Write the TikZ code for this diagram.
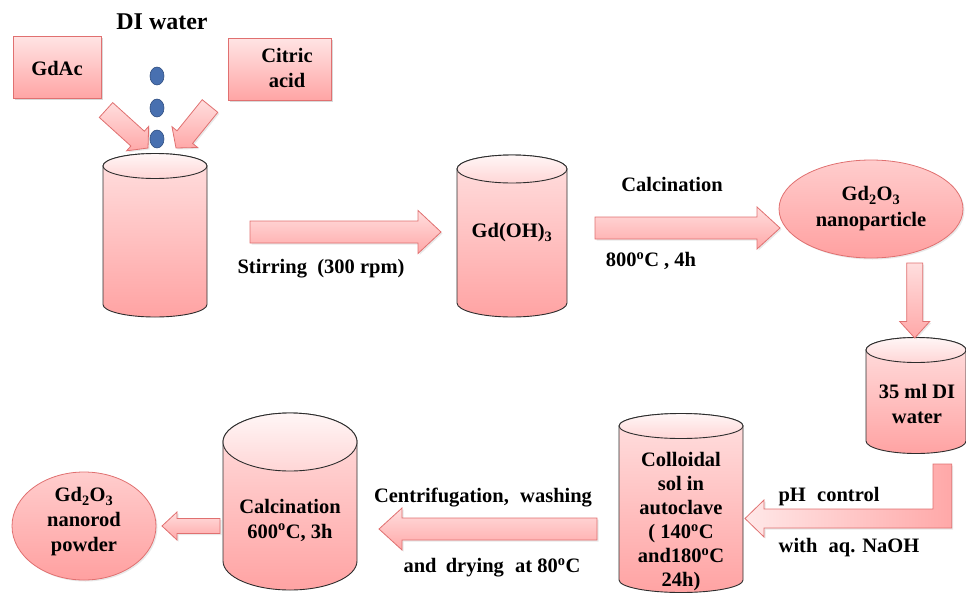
\documentclass[tikz,border=0pt]{standalone}
\usepackage{fontspec}
\setmainfont{Liberation Serif}
\usetikzlibrary{calc,shadows,shapes.geometric}
\definecolor{cylT}{RGB}{255,224,224}
\definecolor{cylB}{RGB}{255,163,163}
\definecolor{lidT}{RGB}{255,246,246}
\definecolor{lidB}{RGB}{255,214,214}
\definecolor{cylline}{RGB}{45,45,45}
\definecolor{arrT}{RGB}{255,222,222}
\definecolor{arrB}{RGB}{255,168,168}
\definecolor{arrline}{RGB}{224,112,112}
\definecolor{ellT}{RGB}{255,205,205}
\definecolor{ellB}{RGB}{255,160,160}
\definecolor{boxT}{RGB}{255,228,228}
\definecolor{boxB}{RGB}{255,165,165}
\definecolor{dropc}{RGB}{72,112,176}
\definecolor{dropline}{RGB}{50,80,130}
\tikzset{
  txt/.style={font=\fontsize{20.5}{25}\selectfont\bfseries, align=center, inner sep=0pt},
  cylbody/.style={draw=cylline, line width=0.9pt, top color=cylT, bottom color=cylB},
  cyltop/.style={draw=cylline, line width=0.9pt, top color=lidT, bottom color=lidB},
  arrbase/.style={draw=arrline, line width=0.8pt, drop shadow={opacity=.18, shadow xshift=1.5pt, shadow yshift=-1.5pt}},
  blockarr/.style={arrbase, top color=arrT, bottom color=arrB},
  ovalbox/.style={ellipse, draw=arrline, line width=0.8pt, top color=ellT, bottom color=ellB, inner sep=0pt, drop shadow={opacity=.18, shadow xshift=1.5pt, shadow yshift=-1.5pt}},
  rectbox/.style={rectangle, draw=arrline, line width=0.8pt, top color=boxT, bottom color=boxB, inner sep=0pt, drop shadow={opacity=.3, shadow xshift=2pt, shadow yshift=-2pt}},
  drop/.style={fill=dropc, draw=dropline, line width=0.6pt},
  holder/.style={inner sep=0pt, draw=none}
}
% #1 cx, #2 top-lid centre y, #3 bottom centre y, #4 rx, #5 ry
\newcommand\cylshape[5]{%
  \path[cylbody] (#1-#4,#2) -- (#1-#4,#3)
     arc[start angle=180,end angle=360,x radius=#4pt,y radius=#5pt]
     -- (#1+#4,#2)
     arc[start angle=0,end angle=180,x radius=#4pt,y radius=#5pt] -- cycle;
  \path[cyltop] (#1,#2) ellipse[x radius=#4pt,y radius=#5pt];
}
% [opts] from, to, shaft half width, head half width, head length
\newcommand\blockarrow[6][]{%
  \coordinate (ba-h) at ($(#3)!#6pt!(#2)$);
  \path[blockarr,#1] ($(#2)!#4pt!90:(#3)$) -- ($(ba-h)!#4pt!90:(#3)$)
     -- ($(ba-h)!#5pt!90:(#3)$) -- (#3) -- ($(ba-h)!#5pt!-90:(#3)$)
     -- ($(ba-h)!#4pt!-90:(#3)$) -- ($(#2)!#4pt!-90:(#3)$) -- cycle;
}
\begin{document}
\begin{tikzpicture}[x=1pt,y=1pt]
\useasboundingbox (0,0) rectangle (966,-592);

% top-left inputs
\node[txt, font=\fontsize{24}{28}\selectfont\bfseries] (di) at (162,-22) {DI water};
\node[rectbox, minimum width=88pt, minimum height=62pt] (gdac) at (57,-67) {};
\node[txt] (gdactxt) at (57,-68) {GdAc};
\node[rectbox, minimum width=103pt, minimum height=62pt] (citric) at (279.5,-69) {};
\node[txt] (citrictxt) at (287,-68) {Citric\\acid};
\path[drop] (157,-76) ellipse[x radius=7pt,y radius=9pt];
\path[drop] (157,-108) ellipse[x radius=7pt,y radius=9pt];
\path[drop] (157,-139) ellipse[x radius=7pt,y radius=9pt];

% cylinders
\cylshape{155}{-166}{-304.5}{52}{12.5}
\node[holder, minimum width=104pt, minimum height=150pt] (cylA) at (155,-235) {};
\cylshape{512}{-169}{-303}{55}{14}
\node[txt] (cylB) at (512,-233) {Gd(OH)\textsubscript{3}};
\cylshape{916}{-350}{-441}{50}{12.5}
\node[txt] (cylC) at (917,-404) {35 ml DI\\water};
\cylshape{681}{-426}{-580}{62}{12.5}
\node[txt, font=\fontsize{20.5}{24}\selectfont\bfseries] (cylD) at (681,-522) {Colloidal\\sol in\\autoclave\\( 140\textsuperscript{o}C\\and180\textsuperscript{o}C\\24h)};
\cylshape{290}{-442}{-561}{67}{29}
\node[txt] (cylE) at (290,-520) {Calcination\\600\textsuperscript{o}C, 3h};

% ellipses
\node[ovalbox, minimum width=184pt, minimum height=98pt] (ellA) at (871,-209) {};
\node[txt, font=\fontsize{20.5}{26}\selectfont\bfseries] (ellAtxt) at (871,-209) {Gd\textsubscript{2}O\textsubscript{3}\\nanoparticle};
\node[ovalbox, minimum width=144pt, minimum height=108pt] (ellB) at (84,-526) {};
\node[txt] (ellBtxt) at (84,-522) {Gd\textsubscript{2}O\textsubscript{3}\\nanorod\\powder};

% arrow labels
\node[txt] (stir) at (321,-269) {Stirring\ \ (300 rpm)};
\node[txt] (calc1) at (672,-184) {Calcination};
\node[txt] (temp1) at (651,-261) {800\textsuperscript{o}C , 4h};
\node[txt] (ph) at (829,-497) {pH\hspace{0.3em} control};
\node[txt] (naoh) at (849,-548) {with\hspace{0.3em} aq. NaOH};
\node[txt] (cent) at (483,-498) {Centrifugation,\hspace{0.3em} washing};
\node[txt] (dry) at (492,-568) {and\hspace{0.2em} drying\hspace{0.3em} at 80\textsuperscript{o}C};

% block arrows
\coordinate (d1s) at (106,-110); \coordinate (d1e) at (148,-148);
\coordinate (d2s) at (210,-106); \coordinate (d2e) at (176,-148);
\coordinate (a1s) at (250,-232); \coordinate (a1e) at (441,-232);
\coordinate (a2s) at (595,-228); \coordinate (a2e) at (780,-228);
\coordinate (a3s) at (914.7,-263); \coordinate (a3e) at (914.7,-338);
\coordinate (a4s) at (597,-529); \coordinate (a4e) at (379,-529);
\coordinate (a5s) at (220,-526); \coordinate (a5e) at (162,-526);
\blockarrow{d1s}{d1e}{10}{16.5}{14}
\blockarrow{d2s}{d2e}{10}{16.5}{14}
\blockarrow{a1s}{a1e}{11}{21.5}{23}
\blockarrow{a2s}{a2e}{11}{21}{23}
\blockarrow{a3s}{a3e}{8}{15}{16.5}
\blockarrow{a4s}{a4e}{11}{21}{23}
\blockarrow{a5s}{a5e}{7.5}{14}{15}

% bent arrow (pH control)
\path[arrbase, left color=arrT!70!white, right color=arrB]
  (933,-464) -- (951.7,-464) -- (951.7,-528) -- (764,-528) -- (764,-537)
  -- (745,-518.5) -- (764,-500) -- (764,-509) -- (933,-509) -- cycle;
\end{tikzpicture}
\end{document}
